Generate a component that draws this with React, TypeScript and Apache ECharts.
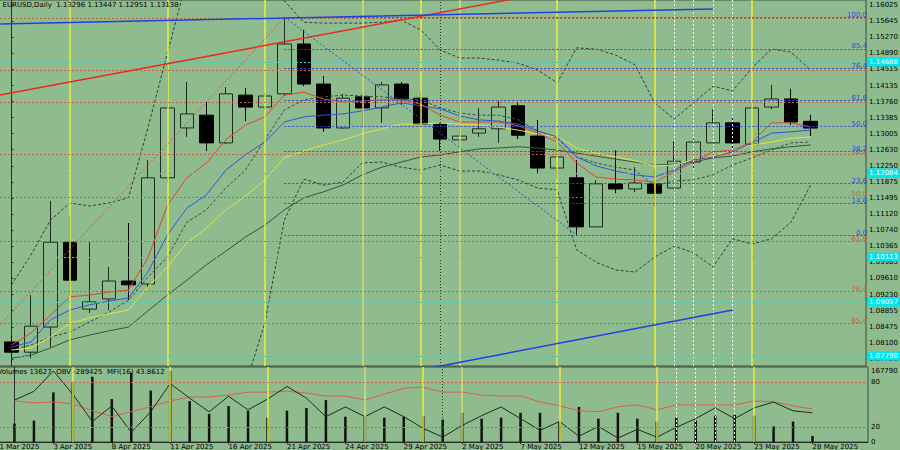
import React, { useEffect, useRef } from 'react';
import * as echarts from 'echarts';

// ---------- Price data (EURUSD Daily), one entry per bar, bar 0 = 1 Apr 2025 ----------
const opens = [1.0812,1.0788,1.0847,1.1046,1.0889,1.0913,1.0955,1.0948,1.1197,1.1314,1.1344,1.1279,1.1391,1.1363,1.1394,1.1511,1.1417,1.1314,1.1387,1.1361,1.1417,1.1384,1.1323,1.1286,1.1302,1.1312,1.1366,1.1295,1.1220,1.1197,1.1082,1.1183,1.1171,1.1183,1.1173,1.1234,1.1279,1.1326,1.1276,1.1363,1.1382,1.13296];
const closes = [1.0788,1.0849,1.1046,1.0957,1.0906,1.0955,1.0946,1.1197,1.1361,1.1347,1.1279,1.1394,1.1363,1.1389,1.1511,1.1417,1.1314,1.1384,1.1361,1.1415,1.1382,1.1323,1.1288,1.1295,1.1312,1.1363,1.1297,1.1220,1.1246,1.1082,1.1183,1.1171,1.1185,1.1161,1.1236,1.1281,1.1326,1.1279,1.1361,1.1382,1.1328,1.13138];
const lows = [1.0765,1.0774,1.0800,1.0920,1.0880,1.0887,1.0910,1.0941,1.1185,1.1293,1.1260,1.1276,1.1330,1.1356,1.1389,1.1412,1.1305,1.1312,1.1314,1.1326,1.1368,1.1316,1.1260,1.1269,1.1293,1.1279,1.1288,1.1208,1.1194,1.1063,1.1082,1.1161,1.1164,1.1129,1.1171,1.1218,1.1279,1.1253,1.1274,1.1358,1.1321,1.12951];
const highs = [1.0828,1.0922,1.1143,1.1105,1.1046,1.0988,1.1091,1.1239,1.1466,1.1422,1.1375,1.1410,1.1408,1.1396,1.1570,1.1544,1.1436,1.1394,1.1396,1.1422,1.1422,1.1396,1.1328,1.1377,1.1361,1.1377,1.1375,1.1333,1.1293,1.1239,1.1192,1.1262,1.1222,1.1218,1.1283,1.1288,1.1358,1.1342,1.1373,1.1415,1.1406,1.13447];

// ---------- Indicators on price ----------
const maRed = [1.0805,1.0833,1.0875,1.0918,1.0922,1.0929,1.0934,1.1009,1.1133,1.1197,1.1232,1.1286,1.1321,1.1340,1.1391,1.1398,1.1382,1.1375,1.1377,1.1380,1.1380,1.1370,1.1344,1.1328,1.1328,1.1328,1.1319,1.1302,1.1281,1.1232,1.1199,1.1194,1.1192,1.1187,1.1211,1.1234,1.1258,1.1262,1.1281,1.1326,1.1326,1.1316];
const maBlue = [1.0800,1.0812,1.0864,1.0887,1.0899,1.0908,1.0915,1.0976,1.1063,1.1126,1.1157,1.1215,1.1251,1.1281,1.1328,1.1340,1.1344,1.1347,1.1354,1.1363,1.1373,1.1366,1.1359,1.1342,1.1333,1.1330,1.1323,1.1307,1.1293,1.1246,1.1225,1.1213,1.1204,1.1199,1.1215,1.1239,1.1246,1.1258,1.1279,1.1302,1.1305,1.1309];
const maYellow = [1.0793,1.0798,1.0824,1.0856,1.0868,1.0878,1.0887,1.0941,1.0988,1.1044,1.1079,1.1122,1.1154,1.1192,1.1244,1.1260,1.1274,1.1286,1.1300,1.1312,1.1323,1.1323,1.1326,1.1323,1.1321,1.1316,1.1309,1.1300,1.1293,1.1267,1.1255,1.1246,1.1237,1.1225,1.1227,1.1239,1.1248,1.1262,1.1274,1.1281,1.1290,1.1293];
const maGreen = [1.0774,1.0781,1.0798,1.0817,1.0828,1.0838,1.0847,1.0885,1.0922,1.0957,1.0993,1.1025,1.1058,1.1086,1.1122,1.1150,1.1164,1.1180,1.1204,1.1222,1.1234,1.1246,1.1251,1.1258,1.1265,1.1267,1.1270,1.1267,1.1262,1.1255,1.1248,1.1241,1.1234,1.1227,1.1229,1.1234,1.1244,1.1248,1.1258,1.1265,1.1270,1.1274];
const bandUpper = [1.0946,1.1016,1.1098,1.1138,1.1131,1.1138,1.1150,1.1314,1.1490,1.1661,1.1755,1.1802,1.1802,1.1755,1.1612,1.1562,1.1560,1.1560,1.1560,1.1562,1.1567,1.1544,1.1497,1.1478,1.1478,1.1473,1.1466,1.1450,1.1420,1.1502,1.1499,1.1485,1.1462,1.1373,1.1335,1.1373,1.1412,1.1401,1.1455,1.1499,1.1492,1.1450];
const bandLower = [1.0700,1.0690,1.0640,1.0600,1.0580,1.0570,1.0560,1.0520,1.0450,1.0400,1.0390,1.0420,1.0711,1.0856,1.1098,1.1194,1.1180,1.1187,1.1232,1.1234,1.1222,1.1215,1.1227,1.1213,1.1213,1.1204,1.1192,1.1173,1.1169,1.1028,1.0999,1.0981,1.0976,1.1011,1.1037,1.1021,1.0988,1.1054,1.1042,1.1054,1.1093,1.1180];
const envLine = [1.0793,1.0805,1.0824,1.0835,1.0859,1.0882,1.0910,1.0964,1.1011,1.1093,1.1122,1.1173,1.1215,1.1286,1.1356,1.1380,1.1387,1.1391,1.1389,1.1387,1.1382,1.1380,1.1361,1.1349,1.1344,1.1344,1.1333,1.1307,1.1290,1.1246,1.1232,1.1222,1.1215,1.1178,1.1190,1.1192,1.1204,1.1227,1.1244,1.1262,1.1279,1.1281];

// ---------- Lower panel ----------
const volumes = [41400,48000,111000,135000,146000,96000,155000,115000,159000,91500,63000,80500,70000,54500,70000,76000,93700,56600,56600,54500,56600,58800,50100,65400,52300,54500,65400,65400,45800,78400,52300,65400,52300,45800,54500,48000,58800,61000,58800,34900,45800,13627];
const obv = [-215300,-164000,-44300,-181100,-340700,-249500,-403400,-283700,-118400,-203900,-283700,-192500,-272300,-209600,-135500,-203900,-312200,-255200,-312200,-255200,-312200,-380600,-431900,-363500,-306500,-255200,-323600,-392000,-340700,-426200,-369200,-437600,-386300,-431900,-374900,-323600,-260900,-323600,-260900,-226700,-278000,-289425];
const mfi = [54.8,52.2,53.5,50.8,41.7,33.9,40.4,46.9,54.8,60.0,60.0,62.6,66.5,66.5,67.8,65.2,61.3,61.3,56.1,63.9,71.7,73.0,66.5,66.5,62.6,61.3,61.3,53.5,48.2,41.7,40.4,46.9,49.5,43.0,49.5,49.5,49.5,49.5,54.8,53.5,48.2,43.8612];

// ---------- Axes ticks ----------
const dateTickIdx = [-1,2,5,8,11,14,17,20,23,26,29,32,35,38,41];
const dateLabels = ['31 Mar 2025','3 Apr 2025','8 Apr 2025','11 Apr 2025','16 Apr 2025','21 Apr 2025','24 Apr 2025','29 Apr 2025','2 May 2025','7 May 2025','12 May 2025','15 May 2025','20 May 2025','23 May 2025','28 May 2025'];
const priceTicks = [1.16025,1.15645,1.15270,1.14890,1.14515,1.14135,1.13760,1.13385,1.13005,1.12630,1.12250,1.11875,1.11495,1.11120,1.10740,1.10365,1.09985,1.09610,1.09230,1.08855,1.08475,1.08100,1.07720];
const mfiTicks = [0,20,80];
const volTicks = [167790];

// ---------- Objects ----------
const blueFibLevels = ['100.0','85.4','76.4','61.8','50.0','38.2','23.6','14.6','0.0'];
const blueFibPrices = [1.15743,1.14996,1.14536,1.13790,1.13186,1.12583,1.11836,1.11376,1.10629];
const redFibLevels = ['0.0','14.6','23.6','38.2','50.0','61.8','76.4','85.4'];
const redFibPrices = [1.15720,1.14495,1.13740,1.12515,1.11525,1.10488,1.09310,1.08555];
const redFibLabelShown = [false,false,false,true,true,true,true,true];
const tealLevels = [1.14688,1.12084,1.10113,1.09057,1.07790];
const lastPrice = 1.13138;
const yellowVLines = [3,8,13,18,21,23,28,33,38];
const paleVLines = [18,23];
const whiteVLines = [34,35,36,37];
const blackVLines = [0,22];
const redTrend = [[-1,1.13876],[27,1.16273]];
const blueTopTrend = [[-1,1.15575],[36,1.15931]];
const blueBottomTrend = [[20,1.0738],[37,1.0887]];
const blueFibTrend = [[14,1.15743],[29,1.10629]];
const redFibTrend = [[-3,1.0733],[14,1.1572]];

const X_MIN = -1;
const X_MAX = 43.85;
const Y_MIN = 1.07556;
const Y_MAX = 1.16142;
const SHIFT = 8.5; // the chart div starts 8.5px left of the page so that bar -1 sits at x = -8.5
const BG = '#8fbc8f';
const FONT = 'DejaVu Sans';
const BLUE = '#2f4fd8';
const RED = '#d65a3c';

const pairs = (vals: number[]) => vals.map((v, i) => [i, v]);

function vLineMark() {
  return {
    silent: true,
    symbol: ['none', 'none'],
    precision: 6,
    label: { show: false },
    data: [
      ...yellowVLines.map((i) => ({
        xAxis: i,
        lineStyle: { color: paleVLines.includes(i) ? '#d6dc70' : '#eeee3a', width: 1.5, type: 'solid' },
      })),
      ...whiteVLines.map((i) => ({ xAxis: i, lineStyle: { color: '#eef4ee', width: 1, type: [2, 2] } })),
      ...blackVLines.map((i) => ({ xAxis: i, lineStyle: { color: '#2a382a', width: 1, type: [1, 2] } })),
    ],
  };
}

function lineSeries(vals: number[], color: string, type: any = 'solid', z = 4) {
  return {
    type: 'line',
    xAxisIndex: 0,
    yAxisIndex: 0,
    data: pairs(vals),
    symbol: 'none',
    z,
    silent: true,
    lineStyle: { color, width: 1, type },
  };
}

function trendSeries(pts: number[][], color: string, width: number, type: any = 'solid') {
  return {
    type: 'line',
    xAxisIndex: 0,
    yAxisIndex: 0,
    data: pts,
    symbol: 'none',
    z: 5,
    silent: true,
    lineStyle: { color, width, type },
  };
}

export default function App() {
  const ref = useRef<HTMLDivElement>(null);
  useEffect(() => {
    document.body.style.margin = '0';
    const chart = echarts.init(ref.current!, null, { renderer: 'svg' });
    const option: any = {
      animation: false,
      backgroundColor: BG,
      textStyle: { fontFamily: FONT },
      grid: [
        { left: 0, right: 33, top: 0, height: 366, show: true, borderColor: '#3c4a3c', borderWidth: 1 },
        { left: 0, right: 33, top: 367, height: 77, show: true, borderColor: '#3c4a3c', borderWidth: 1 },
      ],
      xAxis: [
        { type: 'value', gridIndex: 0, min: X_MIN, max: X_MAX, show: false },
        {
          type: 'value', gridIndex: 1, min: X_MIN, max: X_MAX,
          axisLine: { show: true, onZero: false, lineStyle: { color: '#2a2a2a' } },
          axisTick: { show: true, customValues: dateTickIdx, length: 2, lineStyle: { color: '#2a2a2a' } },
          splitLine: { show: false },
          axisLabel: {
            customValues: dateTickIdx,
            formatter: (v: number) => dateLabels[dateTickIdx.indexOf(Math.round(v))] ?? '',
            align: 'left', fontSize: 7, fontFamily: FONT, color: '#000', margin: 1,
          },
        },
      ],
      yAxis: [
        {
          type: 'value', gridIndex: 0, position: 'right', min: Y_MIN, max: Y_MAX,
          axisLine: { show: true, lineStyle: { color: '#2a2a2a' } },
          axisTick: { show: true, customValues: priceTicks, length: 2, lineStyle: { color: '#2a2a2a' } },
          splitLine: { show: false },
          axisLabel: { customValues: priceTicks, formatter: (v: number) => v.toFixed(5), fontSize: 7, fontFamily: FONT, color: '#000', margin: 3 },
        },
        {
          type: 'value', gridIndex: 1, position: 'right', min: 0, max: 100,
          axisLine: { show: true, lineStyle: { color: '#2a2a2a' } },
          axisTick: { show: false },
          splitLine: { show: false },
          axisLabel: { customValues: mfiTicks, formatter: (v: number) => String(v), fontSize: 7, fontFamily: FONT, color: '#000', margin: 3 },
        },
        {
          type: 'value', gridIndex: 1, position: 'right', min: 0, max: 167790,
          axisLine: { show: false }, axisTick: { show: false }, splitLine: { show: false },
          axisLabel: { customValues: volTicks, formatter: (v: number) => String(v), fontSize: 7, fontFamily: FONT, color: '#000', margin: 3, verticalAlign: 'top' },
        },
        { type: 'value', gridIndex: 1, min: -460425, max: -21525, show: false },
      ],
      graphic: [
        { type: 'text', x: 2 + SHIFT, y: 1, z: 100, style: { text: 'EURUSD,Daily  1.13296 1.13447 1.12951 1.13138', fontSize: 7, fontFamily: FONT, fill: '#000' } },
        { type: 'text', x: -3 + SHIFT, y: 368, z: 100, style: { text: 'Volumes 13627  OBV -289425  MFI(16) 43.8612', fontSize: 7, fontFamily: FONT, fill: '#000' } },
      ],
      series: [
        {
          type: 'line', xAxisIndex: 0, yAxisIndex: 0, data: [], z: 1, silent: true,
          markLine: vLineMark(),
        },
        {
          type: 'line', xAxisIndex: 0, yAxisIndex: 0, data: [], z: 2, silent: true,
          markLine: {
            silent: true,
            symbol: ['none', 'none'],
            precision: 6,
            data: [
              ...tealLevels.map((p) => ({
                yAxis: p,
                lineStyle: { color: '#45cdb4', type: [2, 2], width: 1 },
                label: { show: true, position: 'end', formatter: p.toFixed(5), backgroundColor: '#00e4ee', color: '#ffffff', fontSize: 7, fontFamily: FONT, padding: [1, 2, 1, 2], distance: 1 },
              })),
              ...redFibPrices.map((p, k) => [
                {
                  coord: [X_MIN, p],
                  lineStyle: { color: RED, type: [2, 2], width: 1 },
                  label: { show: redFibLabelShown[k], position: 'insideEndTop', formatter: redFibLevels[k], color: RED, fontSize: 7, fontFamily: FONT, distance: -1 },
                },
                { coord: [X_MAX, p] },
              ]),
              ...blueFibPrices.map((p, k) => [
                {
                  coord: [14, p],
                  lineStyle: { color: BLUE, type: [2, 2], width: 1 },
                  label: { show: true, position: 'insideEndTop', formatter: blueFibLevels[k], color: BLUE, fontSize: 7, fontFamily: FONT, distance: -1 },
                },
                { coord: [X_MAX, p] },
              ]),
            ],
          },
        },
        {
          type: 'candlestick', xAxisIndex: 0, yAxisIndex: 0, z: 3, barWidth: 14, silent: true,
          data: opens.map((o, i) => [i, o, closes[i], lows[i], highs[i]]),
          itemStyle: { color: BG, color0: '#000000', borderColor: '#1f2a1f', borderColor0: '#000000', borderWidth: 1 },
          markLine: {
            silent: true,
            symbol: ['none', 'none'],
            precision: 6,
            data: [
              {
                yAxis: lastPrice,
                lineStyle: { opacity: 0 },
                label: { show: true, position: 'end', formatter: lastPrice.toFixed(5), backgroundColor: '#000', color: '#fff', fontSize: 7, fontFamily: FONT, padding: [1, 2, 1, 2], distance: 1 },
              },
            ],
          },
        },
        lineSeries(bandUpper, '#2f3f2f', [3, 2]),
        lineSeries(bandLower, '#2f3f2f', [3, 2]),
        lineSeries(envLine, '#3a4f3a', [3, 2]),
        lineSeries(maGreen, '#35553a'),
        lineSeries(maYellow, '#e2e248'),
        lineSeries(maBlue, '#2f55e0'),
        lineSeries(maRed, '#e0452e'),
        trendSeries(redTrend, '#e8281e', 1.5),
        trendSeries(blueTopTrend, '#2040e0', 1.5),
        trendSeries(blueBottomTrend, '#2040e0', 1.5),
        trendSeries(blueFibTrend, BLUE, 1, [2, 2]),
        trendSeries(redFibTrend, RED, 1, [2, 2]),
        {
          type: 'line', xAxisIndex: 1, yAxisIndex: 1, data: [], z: 1, silent: true,
          markLine: vLineMark(),
        },
        {
          type: 'bar', xAxisIndex: 1, yAxisIndex: 2, data: pairs(volumes), barWidth: 2.5, z: 3, silent: true,
          itemStyle: { color: '#111' },
        },
        {
          type: 'line', xAxisIndex: 1, yAxisIndex: 1, data: pairs(mfi), symbol: 'none', z: 4, silent: true,
          lineStyle: { color: '#d9604a', width: 1 },
          markLine: {
            silent: true, symbol: ['none', 'none'], label: { show: false },
            data: [20, 80].map((v) => ({ yAxis: v, lineStyle: { color: '#d9604a', type: [2, 2], width: 1 } })),
          },
        },
        {
          type: 'line', xAxisIndex: 1, yAxisIndex: 3, data: pairs(obv), symbol: 'none', z: 4, silent: true,
          lineStyle: { color: '#1f2a1f', width: 1 },
        },
      ],
    };
    chart.setOption(option);
    return () => chart.dispose();
  }, []);
  return <div ref={ref} style={{ position: 'absolute', left: -SHIFT, top: 0, width: 900 + SHIFT, height: 450 }} />;
}
